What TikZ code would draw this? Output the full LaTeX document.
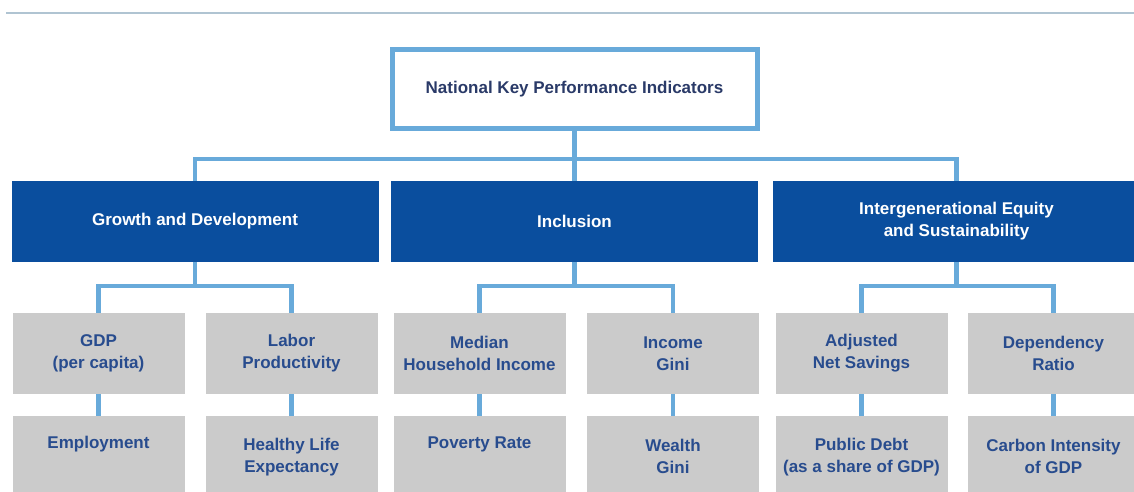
\documentclass[tikz,border=0pt]{standalone}
\usepackage{fontspec}
\setmainfont{Liberation Sans}
\usepackage{xcolor}
\usetikzlibrary{positioning}
\definecolor{kpiline}{RGB}{104,170,218}
\definecolor{kpideep}{RGB}{10,78,158}
\definecolor{kpigrey}{RGB}{203,203,203}
\definecolor{kpinavy}{RGB}{42,58,104}
\definecolor{kpitext}{RGB}{40,76,142}
\definecolor{kpirule}{RGB}{176,196,210}
\newcommand{\kpifont}{\fontsize{17}{22}\selectfont\bfseries}

\begin{document}
\begin{tikzpicture}[x=1pt, y=1pt,
    kpibox/.style={rectangle, draw=kpiline, line width=5pt, fill=white,
        minimum width=365pt, minimum height=79pt, font=\kpifont, text=kpinavy},
    pillar/.style={rectangle, fill=kpideep, minimum width=367pt,
        minimum height=81pt, align=center, font=\kpifont, text=white},
    metric/.style={rectangle, fill=kpigrey, minimum width=172pt,
        minimum height=81pt, align=center, font=\kpifont, text=kpitext},
    link/.style={kpiline, line width=4.5pt}
]
    \useasboundingbox (0,0) rectangle (1134,492);
    \fill[white] (0,0) rectangle (1134,492);
    \clip (0,0) rectangle (1134,492);

    % rule along the top
    \draw[kpirule, line width=2pt] (6,479) -- (1134,479);

    \node[kpibox] (kpi) at (574.5,403) {National Key Performance Indicators};

    % the three pillars
    \node[pillar] (grow) at (195,270.5) {Growth and Development};
    \node[pillar] (incl) at (574.5,270.5) {Inclusion};
    \node[pillar] (equity) at (956.5,270.5) {Intergenerational Equity\\and Sustainability};

    % first row of indicators
    \node[metric] (gdp) at (98.5,138.5) {GDP\\(per capita)};
    \node[metric] (labor) at (291.5,138.5) {Labor\\Productivity};
    \node[metric] (median) at (479.5,138.5) {Median\\Household Income};
    \node[metric] (incgini) at (673,138.5) {Income\\Gini};
    \node[metric] (saving) at (861.5,138.5) {Adjusted\\Net Savings};
    \node[metric] (depend) at (1053.5,138.5) {Dependency\\Ratio};

    % second row of indicators
    \node[metric, below=22pt of gdp] (employ) {Employment\\\strut};
    \node[metric, below=22pt of labor] (health) {Healthy Life\\Expectancy};
    \node[metric, below=22pt of median] (poverty) {Poverty Rate\\\strut};
    \node[metric, below=22pt of incgini] (wlthgini) {Wealth\\Gini};
    \node[metric, below=22pt of saving] (debt) {Public Debt\\(as a share of GDP)};
    \node[metric, below=22pt of depend] (carbon) {Carbon Intensity\\of GDP};

    % tree lines
    \coordinate (bus) at (574.5,333);
    \draw[link] (kpi.south) -- (incl.north);
    \draw[link] (grow.north) |- (bus) -| (equity.north);

    \draw[link] (grow.south) -- ++(0,-24) coordinate (growbus);
    \draw[link] (gdp.north) |- (growbus) -| (labor.north);
    \draw[link] (incl.south) -- ++(0,-24) coordinate (inclbus);
    \draw[link] (median.north) |- (inclbus) -| (incgini.north);
    \draw[link] (equity.south) -- ++(0,-24) coordinate (equitybus);
    \draw[link] (saving.north) |- (equitybus) -| (depend.north);

    \draw[link] (gdp) -- (employ);
    \draw[link] (labor) -- (health);
    \draw[link] (median) -- (poverty);
    \draw[link] (incgini) -- (wlthgini);
    \draw[link] (saving) -- (debt);
    \draw[link] (depend) -- (carbon);
\end{tikzpicture}
\end{document}
